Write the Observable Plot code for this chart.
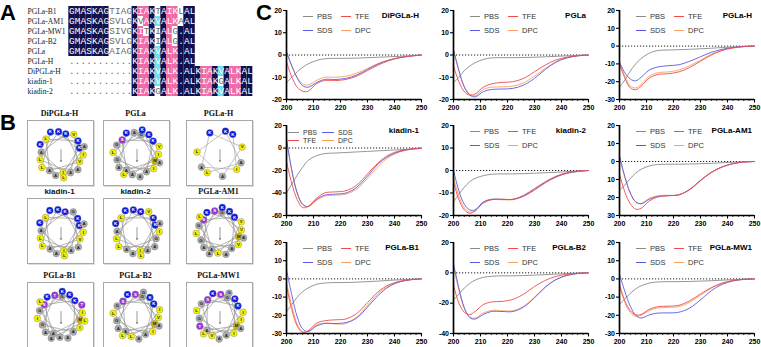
<!DOCTYPE html>
<html><head><meta charset="utf-8">
<script src="https://cdn.jsdelivr.net/npm/d3@7"></script>
<script src="https://cdn.jsdelivr.net/npm/@observablehq/plot@0.6"></script>
<style>
body{margin:0;background:#fff;}
#root{position:relative;width:761px;height:347px;overflow:hidden;font-family:"Liberation Sans",Arial,sans-serif;background:#fff;}
.plabel{position:absolute;font:bold 22px/22px "Liberation Sans",Arial,sans-serif;color:#000;}
.wbox{position:absolute;border:1px solid #a8a8a8;box-shadow:1px 1px 0 #ddd;background:#fff;}
.wtitle{position:absolute;text-align:center;font:bold 8px/10px "Liberation Serif","Times New Roman",serif;color:#111;white-space:nowrap;}
.wtitle.sans{font-family:"Liberation Sans",Arial,sans-serif;}
.lgline{position:absolute;height:0;border-top:1px solid;}
.lgtext{position:absolute;font:7.5px/9px "Liberation Sans",Arial,sans-serif;color:#333;white-space:nowrap;}
.lgtext.small{font:7px/7px "Liberation Sans",Arial,sans-serif;}
.cdtitle{position:absolute;font:bold 8px/10px "Liberation Sans",Arial,sans-serif;color:#000;white-space:nowrap;text-align:right;}
svg{overflow:visible;}
</style></head><body><div id="root"></div>
<script>
// ---------- Panel A: alignment ----------
const alignNames = ["PGLa-B1","PGLa-AM1","PGLa-MW1","PGLa-B2","PGLa","PGLa-H","DiPGLa-H","kiadin-1","kiadin-2"];
const alignSeqs = [
  "GMASKAGTIAGKIAKTAIKLAL",
  "GMASKAGSVLGKVAKVALKAAL",
  "GMASKAGSIVGKITKIALG.AL",
  "GMASKAGSVLGKIAKIALG.AL",
  "GMASKAGAIAGKIAKVALK.AL",
  "...........KIAKVALK.AL",
  "...........KIAKVALK.ALKIAKVALKAL",
  "...........KIAKVALK.ALKIAKGALKAL",
  "...........KIAKGALK.ALKIAKVALKAL"
];
// conservation shading: n = identical, p = high, c = medium, - = none
const alignShade = [
  "nnnnnnn----nppn-npp-nn",
  "nnnnnnn----n-pncnpp-nn",
  "nnnnnnn----np-n-np-nnn",
  "nnnnnnn----nppn-np-nnn",
  "nnnnnnn----nppncnppnnn",
  "-----------nppncnppnnn",
  "-----------nppncnppnnnnppncnppnn",
  "-----------nppncnppnnnnppn-nppnn",
  "-----------nppn-nppnnnnppncnppnn"
];

// ---------- Panel B: helical wheels ----------
const wheelNames = ["DiPGLa-H","PGLa","PGLa-H","kiadin-1","kiadin-2","PGLa-AM1","PGLa-B1","PGLa-B2","PGLa-MW1"];
const wheelSeqs = [
  "KIAKVALKALKIAKVALKAL",
  "GMASKAGAIAGKIAKVALKAL",
  "KIAKVALKAL",
  "KIAKVALKALKIAKGALKAL",
  "KIAKGALKALKIAKVALKAL",
  "GMASKAGSVLGKVAKVALKAAL",
  "GMASKAGTIAGKIAKTAIKLAL",
  "GMASKAGSVLGKIAKIALGAL",
  "GMASKAGSIVGKITKIALGAL"
];
const hydro = {A:0.62,R:-2.53,N:-0.78,D:-0.90,C:0.29,Q:-0.85,E:-0.74,G:0.48,H:-0.40,I:1.38,L:1.06,K:-1.50,M:0.64,F:1.19,P:0.12,S:-0.18,T:-0.05,W:0.81,Y:0.26,V:1.08};

// ---------- Panel C: CD spectra ----------
const wavelengths = [200,202,204,206,208,211,214,218,222,226,230,234,238,242,246,250];
const conditions = ["PBS","TFE","SDS","DPC"];
const cdDiPGLaH = {
  PBS:[-12.5,-10,-7.5,-5.5,-4,-2.5,-1.7,-1.5,-1.5,-1.4,-1.2,-1,-0.8,-0.6,-0.3,0],
  TFE:[-3,-10,-14.5,-16.3,-16.3,-13,-11.5,-11.5,-11,-9.5,-7,-4.5,-2.5,-1.2,-0.5,0],
  SDS:[1.5,-5,-10.5,-13.8,-14.5,-12.5,-11,-11,-10.5,-9,-6.5,-4,-2.3,-1.2,-0.5,0],
  DPC:[1,-5,-10,-13,-13.5,-11.5,-10,-10,-9.5,-8.2,-6,-3.8,-2.2,-1.1,-0.4,0]};
const cdPGLa = {
  PBS:[-12.5,-10,-7,-5,-3.5,-2,-1.3,-1.2,-1.2,-1.1,-1,-0.8,-0.6,-0.4,-0.2,0],
  TFE:[-5,-12,-16.5,-18,-17.5,-14.5,-13,-12.3,-12,-10.5,-7.5,-4.5,-2.2,-1,-0.3,0],
  SDS:[2.5,-7,-14.5,-18,-18.8,-16.5,-15.5,-15.3,-15,-13.5,-10.5,-6.5,-3.2,-1.3,-0.4,0],
  DPC:[2,-7,-14,-17.5,-18.3,-15.5,-14.5,-14.3,-14,-12.5,-9.5,-6,-3,-1.2,-0.4,0]};
const cdPGLaH = {
  PBS:[-23,-19,-14,-10,-7,-4,-2.5,-2.2,-2,-1.8,-1.5,-1.2,-0.8,-0.5,-0.2,0],
  TFE:[-10,-18,-23.5,-24.5,-22.5,-18,-16,-15.5,-14.5,-12,-8.5,-5,-2.5,-1,-0.3,0],
  SDS:[-9,-15,-18.5,-19.5,-17.5,-13.5,-11.8,-11,-10.5,-8.5,-6,-3.5,-1.8,-0.8,-0.2,0],
  DPC:[-10,-17,-22.5,-23.5,-21.5,-17,-15,-14.5,-13.5,-11,-7.8,-4.6,-2.3,-1,-0.3,0]};
const cdKiadin1 = {
  PBS:[-40,-32,-24,-17,-11,-7,-5,-4.5,-4,-3.5,-3,-2.5,-2,-1.5,-1,-0.5],
  TFE:[-12,-32,-46,-53,-52,-45,-40,-39,-38,-33,-23,-13,-6,-2.5,-1,0],
  SDS:[8,-20,-40,-50,-52,-46,-42,-41,-40,-35,-25,-14,-7,-3,-1,0],
  DPC:[7,-21,-41,-50.5,-52,-47,-43,-42,-41,-36.5,-27,-16,-8,-3.5,-1.2,0]};
const cdKiadin2 = {
  PBS:[-14,-10.5,-7.5,-5,-3.5,-2.3,-1.7,-1.5,-1.5,-1.4,-1.2,-1,-0.8,-0.5,-0.2,0],
  TFE:[-5,-13,-17.5,-19,-18,-14.5,-13,-12.8,-12.8,-11,-8,-5,-2.5,-1,-0.3,0],
  SDS:[0,-9,-15,-17.5,-17.5,-14,-12.8,-12.8,-12.8,-11.3,-8.5,-5.3,-2.8,-1.2,-0.4,0],
  DPC:[-3,-11.5,-16.5,-18.5,-17.8,-14.3,-13,-13,-13,-11.5,-8.8,-5.6,-3,-1.3,-0.5,0]};
const cdPGLaAM1 = {
  PBS:[-16,-13,-9.5,-6.5,-4.3,-2.5,-1.7,-1.5,-1.5,-1.4,-1.2,-1,-0.7,-0.4,-0.2,0],
  TFE:[-7,-17,-23.5,-26.5,-26,-22,-19.8,-19,-18.5,-15.5,-10.5,-6,-3,-1.2,-0.3,0],
  SDS:[3,-8.5,-17.5,-22.5,-23.5,-21,-19.5,-19,-18.5,-15.5,-10.5,-6,-3,-1.2,-0.3,0],
  DPC:[2.5,-9,-17.5,-22.3,-23.3,-20.5,-19,-18.8,-18.5,-15.7,-10.8,-6.2,-3.1,-1.2,-0.3,0]};
const cdPGLaB1 = {
  PBS:[-18,-14,-10,-7,-5,-3,-2.3,-2,-2,-1.8,-1.5,-1.2,-0.8,-0.5,-0.2,0],
  TFE:[-4,-17,-26,-29.5,-28.5,-24.5,-23,-22.5,-22,-19,-13,-7,-3.2,-1.3,-0.4,0],
  SDS:[5,-9,-21,-27.5,-29,-26,-24.5,-24.5,-24,-21.5,-15.5,-9,-4.2,-1.6,-0.5,0],
  DPC:[-2,-15,-25,-29,-28.8,-25.5,-24.3,-24.8,-24.5,-21,-14.5,-8,-3.7,-1.5,-0.4,0]};
const cdPGLaB2 = {
  PBS:[-18,-14,-10,-7,-4.8,-3,-2.3,-2,-2,-1.8,-1.5,-1.2,-0.8,-0.5,-0.2,0],
  TFE:[-8,-20,-26,-27.5,-25.5,-21,-19.2,-18.8,-17.5,-14,-9,-5,-2.3,-1,-0.3,0],
  SDS:[6,-10,-23,-29.5,-30.5,-27.5,-25.5,-25.5,-25.5,-22.5,-16.5,-9.5,-4.5,-1.7,-0.5,0],
  DPC:[4,-11.5,-23.5,-29,-29.8,-26.5,-24.8,-25,-25,-22,-16,-9.2,-4.3,-1.6,-0.5,0]};
const cdPGLaMW1 = {
  PBS:[-14,-11,-8,-5.5,-3.8,-2.3,-1.7,-1.5,-1.5,-1.4,-1.2,-1,-0.7,-0.4,-0.2,0],
  TFE:[-3,-12,-17.5,-19.8,-19.5,-16.8,-15.3,-15,-14.5,-12,-8.3,-4.8,-2.3,-0.9,-0.2,0],
  SDS:[2.5,-7,-15,-20,-21.5,-19.8,-18.8,-18.7,-18.3,-16,-11.5,-6.5,-3,-1.1,-0.3,0],
  DPC:[-4,-13,-18.5,-20.5,-20,-17.5,-16,-15.7,-15.2,-12.8,-9,-5.2,-2.5,-1,-0.3,0]};
const cdNames = ["DiPGLa-H","PGLa","PGLa-H","kiadin-1","kiadin-2","PGLa-AM1","PGLa-B1","PGLa-B2","PGLa-MW1"];
const cdData = [cdDiPGLaH,cdPGLa,cdPGLaH,cdKiadin1,cdKiadin2,cdPGLaAM1,cdPGLaB1,cdPGLaB2,cdPGLaMW1];
const cdYDomains = [[-20,20],[-20,20],[-30,20],[-60,20],[-20,20],[-30,20],[-30,20],[-40,20],[-30,20]];
const cdYSteps = [10,10,10,20,10,10,10,20,10];

// ---------- styling / layout ----------
const condColors = {PBS:"#8a8a8a", TFE:"#f24b4b", SDS:"#5a5ae0", DPC:"#f7a263"};
const shadeFill = {n:"#10104f", p:"#f06aa8", c:"#6ee0ee"};
const resColor = a => "KR".includes(a) ? "#0b16ee" : "ILVFW".includes(a) ? "#f1f000" : a==="M" ? "#c9b800" : "AG".includes(a) ? "#ababab" : "#9a33d8";

const root = document.getElementById("root");
function place(node, left, top) { node.style.position="absolute"; node.style.left=left+"px"; node.style.top=top+"px"; root.appendChild(node); return node; }
function div(cls, text, left, top, extra) { const d=document.createElement("div"); d.className=cls; if(text!=null) d.textContent=text; Object.assign(d.style, extra||{}); return place(d,left,top); }

// panel letters
div("plabel","A",0,2);
div("plabel","B",0,112);
div("plabel","C",256,2);

// ---- Panel A ----
{
  const cells = [];
  alignSeqs.forEach((s,r)=>{ [...s].forEach((ch,i)=>cells.push({row:alignNames[r], i, ch, cls:alignShade[r][i]})); });
  const cw = 5.75, x0 = 68.3, ncol = 32;
  const svg = Plot.plot({
    width: 265, height: 102, margin: 0,
    style: {background:"transparent", overflow:"visible"},
    x: {type:"linear", domain:[0,ncol], range:[x0, x0+ncol*cw], axis:null},
    y: {type:"band", domain: alignNames, range:[2.7, 98.6], padding:0, axis:null},
    marks: [
      Plot.barX(cells.filter(d=>d.cls!=="-"), {x1:d=>d.i, x2:d=>d.i+1, y:"row", fill:d=>shadeFill[d.cls]}),
      Plot.text(cells, {x:d=>d.i+0.5, y:"row", text:"ch", fontFamily:"Liberation Mono, Courier New, monospace", fontSize:9.3,
        fill:d=>d.cls==="-" ? "#6a6a6a" : "#fff"}),
      Plot.text(alignNames, {y:d=>d, text:d=>d, frameAnchor:"left", dx:27, textAnchor:"start",
        fontFamily:"Liberation Serif, Times New Roman, serif", fontSize:7.6, fill:"#222"})
    ]
  });
  place(svg, 0, 0);
}

// ---- Panel B ----
{
  const boxX = [27,103,186], boxY = [120,198,282], bw = 65, bh = 64;
  const rad = Math.PI/180;
  wheelSeqs.forEach((seq,k)=>{
    const col = k%3, row = Math.floor(k/3);
    const big = seq.length < 14;
    const R = big ? 23 : 19.3, inc = big ? 0 : 0.27;
    let mx=0,my=0;
    [...seq].forEach((a,i)=>{ const t=i*100*rad; mx+=hydro[a]*Math.sin(t); my+=hydro[a]*Math.cos(t); });
    const alpha = Math.atan2(mx,my), phi = Math.PI - alpha;
    const pts = [...seq].map((a,i)=>{ const t=i*100*rad+phi, r=R+inc*i; return {aa:a, i, x:r*Math.sin(t), y:r*Math.cos(t)}; });
    const ux = Math.sin(alpha+phi), uy = Math.cos(alpha+phi);
    const arrow = [{x1:-4*ux, y1:-4*uy, x2:8*ux, y2:8*uy}];
    const box = div("wbox", null, boxX[col], boxY[row], {width:bw+"px", height:bh+"px"});
    const svg = Plot.plot({
      width: bw, height: bh, margin: 0,
      style: {background:"transparent", overflow:"visible"},
      x: {domain:[-bw/2, bw/2], axis:null},
      y: {domain:[-bh/2, bh/2], axis:null},
      marks: [
        Plot.line(pts, {x:"x", y:"y", stroke:"#9a9a9a", strokeWidth: big ? 0.6 : 0.7}),
        Plot.arrow(arrow, {x1:"x1", y1:"y1", x2:"x2", y2:"y2", stroke:"#555", strokeWidth:0.6, headLength:3}),
        Plot.dot(pts, {x:"x", y:"y", r:3.4, fill:d=>resColor(d.aa), stroke:"#808080", strokeWidth:0.4}),
        Plot.text(pts, {x:"x", y:"y", text:"aa", fontSize:4.3, fontWeight:"bold",
          fill:d=>"KRSTNQ".includes(d.aa) ? "#fff" : "#222", fontFamily:"Liberation Sans, Arial, sans-serif"})
      ]
    });
    svg.style.position="absolute"; svg.style.left="0px"; svg.style.top="0px";
    box.appendChild(svg);
    div("wtitle" + (wheelNames[k].startsWith("kiadin") ? " sans" : ""), wheelNames[k], boxX[col]-10, boxY[row]-11, {width:(bw+20)+"px"});
  });
}

// ---- Panel C ----
{
  const axisX = [286, 453, 619], rowTop = [10, 125, 242], rowH = [89, 90, 91], fw = 135;
  const mL = 26, mR = 8, mT = 4, mB = 18;
  cdNames.forEach((name,k)=>{
    const col = k%3, row = Math.floor(k/3);
    const h = rowH[row];
    const [ymin,ymax] = cdYDomains[k], step = cdYSteps[k];
    const data = cdData[k];
    const rows = [];
    ["PBS","DPC","SDS","TFE"].forEach(s=>data[s].forEach((v,i)=>rows.push({x:wavelengths[i], y:v, s})));
    const fmt = name==="PGLa-AM1" ? (d=>String(Math.abs(d))) : (d=>d<0 ? "-"+Math.abs(d) : String(d));
    const svg = Plot.plot({
      width: mL+fw+mR, height: mT+h+mB,
      marginLeft:mL, marginRight:mR, marginTop:mT, marginBottom:mB,
      style: {background:"transparent", overflow:"visible", font:"bold 7px 'Liberation Sans', Arial, sans-serif", color:"#000"},
      x: {domain:[200,250], axis:null},
      y: {domain:[ymin,ymax], axis:null},
      color: {domain: conditions, range: conditions.map(c=>condColors[c])},
      marks: [
        Plot.ruleY([0], {stroke:"#000", strokeWidth:0.9, strokeDasharray:"1.2,1.8"}),
        Plot.line(rows, {x:"x", y:"y", z:"s", stroke:"s", strokeWidth:0.9, curve:"catmull-rom"}),
        Plot.axisY({ticks: d3.range(ymin, ymax+0.01, step), tickSize:3, tickPadding:1.5, tickFormat: fmt, label:null, strokeWidth:1.1, fontWeight:"bold"}),
        Plot.axisX({ticks: d3.range(200, 251, 10), tickSize:3.5, tickPadding:1.8, tickFormat: d=>String(d), label:null, strokeWidth:1.1, fontWeight:"bold"}),
        Plot.tickX(d3.range(200, 251, 2), {x:d=>d, insetTop:h, insetBottom:-2, stroke:"#000", strokeWidth:0.8}),
        Plot.ruleX([200], {stroke:"#000", strokeWidth:1.7}),
        Plot.ruleY([ymin], {stroke:"#000", strokeWidth:1.7})
      ]
    });
    place(svg, axisX[col]-mL, rowTop[row]-mT);
    // legend
    const L = axisX[col], T = rowTop[row];
    const compact = name==="kiadin-1";
    const items = compact
      ? [["PBS",1,7],["SDS",36,7],["TFE",1,15],["DPC",36,15]]
      : [["PBS",17,6],["TFE",55,6],["SDS",17,20],["DPC",55,20]];
    items.forEach(([lab,dx,dy])=>{
      const len = compact ? 12 : 10, off = compact ? 16 : 14;
      div("lgline", null, L+dx, T+dy, {width:len+"px", borderTopColor:condColors[lab]});
      div("lgtext" + (compact ? " small" : ""), lab, L+dx+off, T+dy-(compact ? 3.5 : 4.5));
    });
    div("cdtitle", name, L+fw-100-2, T+1, {width:"100px"});
  });
}
</script></body></html>
